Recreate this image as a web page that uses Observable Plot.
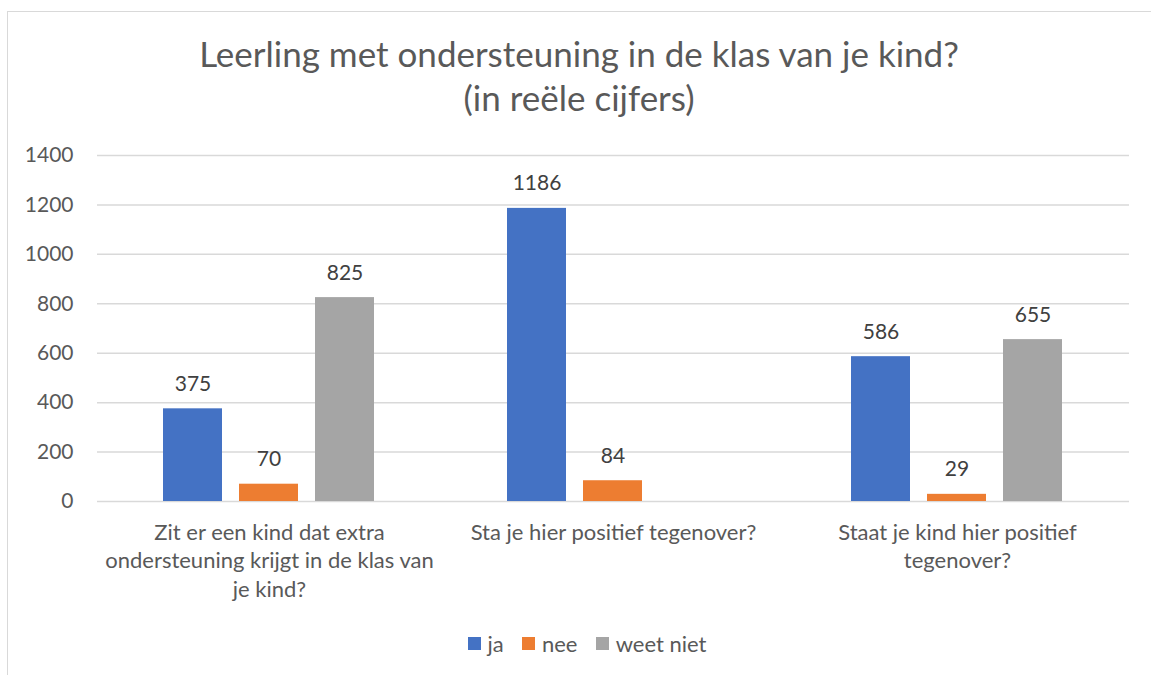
<!DOCTYPE html>
<html>
<head>
<meta charset="utf-8">
<script src="https://cdn.jsdelivr.net/npm/d3@7"></script>
<script src="https://cdn.jsdelivr.net/npm/@observablehq/plot@0.6"></script>
<style>
  html, body { margin: 0; padding: 0; background: #fff; }
  #wrap { position: relative; width: 1151px; height: 675px; overflow: hidden; font-family: Lato, "Open Sans", sans-serif; }
  #frame { position: absolute; left: 7px; top: 11px; width: 1200px; height: 700px; border-top: 1px solid #d9d9d9; border-left: 1px solid #d9d9d9; }
  #title { position: absolute; left: 7px; width: 1144px; top: 31px; text-align: center; font-size: 35px; line-height: 44px; color: #595959; }
  #chart { position: absolute; left: 0; top: 130px; }
  #legend { position: absolute; left: 21px; width: 1151px; top: 627px; display: flex; justify-content: center; }
  #legend .lg-swatch { margin-right: 0.85em !important; }
  #legend .lg-swatch svg { margin-right: 0.3em !important; }
</style>
</head>
<body>
<div id="wrap">
  <div id="frame"></div>
  <div id="title">Leerling met ondersteuning in de klas van je kind?<br>(in reële cijfers)</div>
  <div id="chart"></div>
  <div id="legend"></div>
</div>
<script>
const groups = ["g1", "g2", "g3"];
const groupLabels = [
  "Zit er een kind dat extra\nondersteuning krijgt in de klas van\nje kind?",
  "Sta je hier positief tegenover?",
  "Staat je kind hier positief\ntegenover?"
];
const series = ["ja", "nee", "weet niet"];
const colors = ["#4472C4", "#ED7D31", "#A5A5A5"];
const ja = [375, 1186, 586];
const nee = [70, 84, 29];
const weetNiet = [825, null, 655];
const yTicks = [0, 200, 400, 600, 800, 1000, 1200, 1400];

const seriesValues = [ja, nee, weetNiet];
const rows = [];
groups.forEach((g, gi) => {
  series.forEach((s, si) => {
    const v = seriesValues[si][gi];
    if (v != null) rows.push({group: g, series: s, value: v});
  });
});
const labelOf = new Map(groups.map((g, i) => [g, groupLabels[i]]));

const chart = Plot.plot({
  width: 1151,
  height: 480,
  marginTop: 25,
  marginBottom: 109,
  marginLeft: 96,
  marginRight: 21,
  style: {fontFamily: "Lato, 'Open Sans', sans-serif", fontSize: "21px", color: "#595959", background: "transparent"},
  fx: {domain: groups, padding: 0, label: null, axis: null},
  x: {domain: series, paddingInner: 0.218, paddingOuter: 0.856, axis: null},
  y: {domain: [0, 1400], label: null},
  color: {domain: series, range: colors},
  marks: [
    Plot.gridY(yTicks, {stroke: "#d9d9d9", strokeOpacity: 1, strokeWidth: 1.5}),
    Plot.axisY(yTicks, {tickSize: 0, tickPadding: 24, tickFormat: d => String(d), fill: "#595959", label: null}),
    Plot.barY(rows, {fx: "group", x: "series", y: "value", fill: "series"}),
    Plot.text(rows, {fx: "group", x: "series", y: "value", text: d => String(d.value), lineAnchor: "bottom", dy: -18, fill: "#404040", fontSize: 21}),
    Plot.axisFx({anchor: "bottom", tickSize: 0, tickPadding: 18, tickFormat: g => labelOf.get(g), lineHeight: 1.3, fill: "#595959", label: null, fontSize: 22})
  ]
});
document.getElementById("chart").appendChild(chart);

const legend = Plot.legend({
  color: {domain: series, range: colors, type: "ordinal"},
  swatchSize: 13,
  className: "lg",
  style: {fontFamily: "Lato, 'Open Sans', sans-serif", fontSize: "22px", color: "#595959"}
});
document.getElementById("legend").appendChild(legend);
</script>
</body>
</html>
